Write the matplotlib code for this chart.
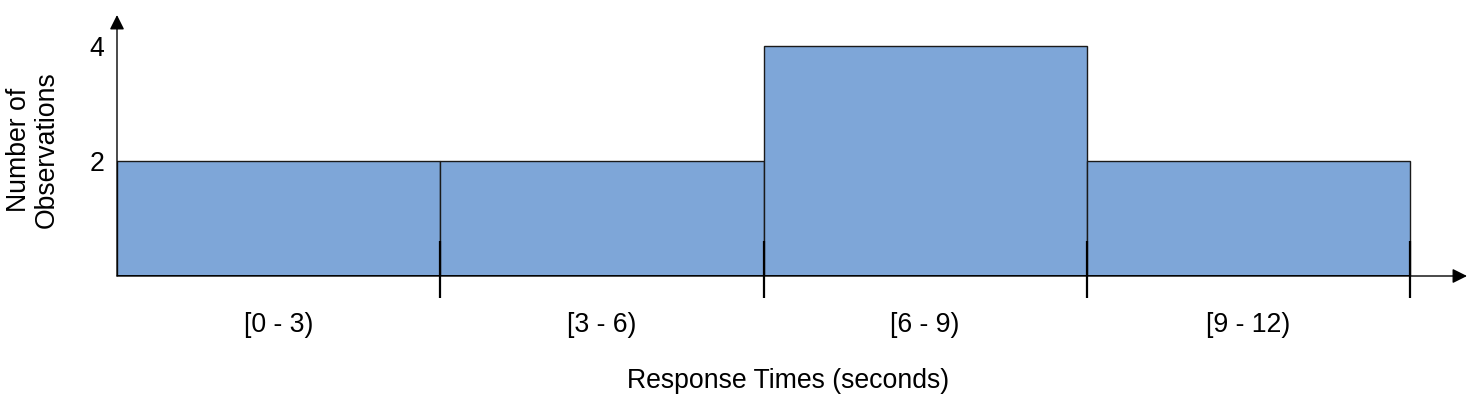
import matplotlib.pyplot as plt
import numpy as np

plt.rcParams['font.family'] = ['Liberation Sans', 'DejaVu Sans']

# =========================
# Data
# =========================
bin_edges = [0, 3, 6, 9, 12]
counts = [2, 2, 4, 2]
bin_labels = ["[0 - 3)", "[3 - 6)", "[6 - 9)", "[9 - 12)"]
y_ticks = [2, 4]

bar_color = "#7EA6D8"
fs = 19.2

# =========================
# Figure / axes
# =========================
W, H = 1469, 397
fig = plt.figure(figsize=(W / 100, H / 100), dpi=100)

x0, x1 = 117, 1467   # axis origin / arrow tip (px)
y0, y1 = 276, 15
ax = fig.add_axes([x0 / W, (H - y0) / H, (x1 - x0) / W, (y0 - y1) / H])

px_per_x = (1410 - 117) / 12
px_per_y = (276 - 161) / 2
xmax = (x1 - x0) / px_per_x
ymax = (y0 - y1) / px_per_y
ax.set_xlim(0, xmax)
ax.set_ylim(0, ymax)

for s in ax.spines.values():
    s.set_visible(False)

# bars
ax.bar(bin_edges[:-1], counts, width=np.diff(bin_edges), align='edge',
       color=bar_color, edgecolor="#1a1a1a", linewidth=1.0, zorder=2)

# axes with arrows
ax.annotate("", xy=(xmax, 0), xytext=(0, 0), xycoords='data',
            arrowprops=dict(arrowstyle="-|>", color="black", lw=1.0,
                            mutation_scale=22, shrinkA=0, shrinkB=0),
            annotation_clip=False, zorder=3)
ax.annotate("", xy=(0, ymax), xytext=(0, 0), xycoords='data',
            arrowprops=dict(arrowstyle="-|>", color="black", lw=1.0,
                            mutation_scale=22, shrinkA=0, shrinkB=0),
            annotation_clip=False, zorder=3)
ax.plot([bin_edges[0], bin_edges[-1]], [0, 0], color="black", lw=2, zorder=4,
        solid_capstyle='butt')

# bin edge ticks
tick_top = 35 / px_per_y
tick_bot = -22 / px_per_y
ax.vlines(bin_edges[1:], tick_bot, tick_top, color="black", lw=1.6,
          clip_on=False, zorder=4)

# tick labels
centers = [(a + b) / 2 for a, b in zip(bin_edges[:-1], bin_edges[1:])]
ax.set_xticks(centers)
ax.set_xticklabels(bin_labels, fontsize=fs)
ax.tick_params(axis='x', length=0, pad=26)
ax.set_yticks(y_ticks)
ax.set_yticklabels([str(v) for v in y_ticks], fontsize=fs)
ax.tick_params(axis='y', length=0, pad=9)

fig.text(788 / W, 1 - 381 / H, "Response Times (seconds)", fontsize=fs,
         ha='center', va='center')
fig.text(33 / W, 1 - 150 / H, "Number of\nObservations", fontsize=fs,
         ha='center', va='center', rotation=90, multialignment='center',
         linespacing=1.1)

plt.savefig("out.png", dpi=100)
